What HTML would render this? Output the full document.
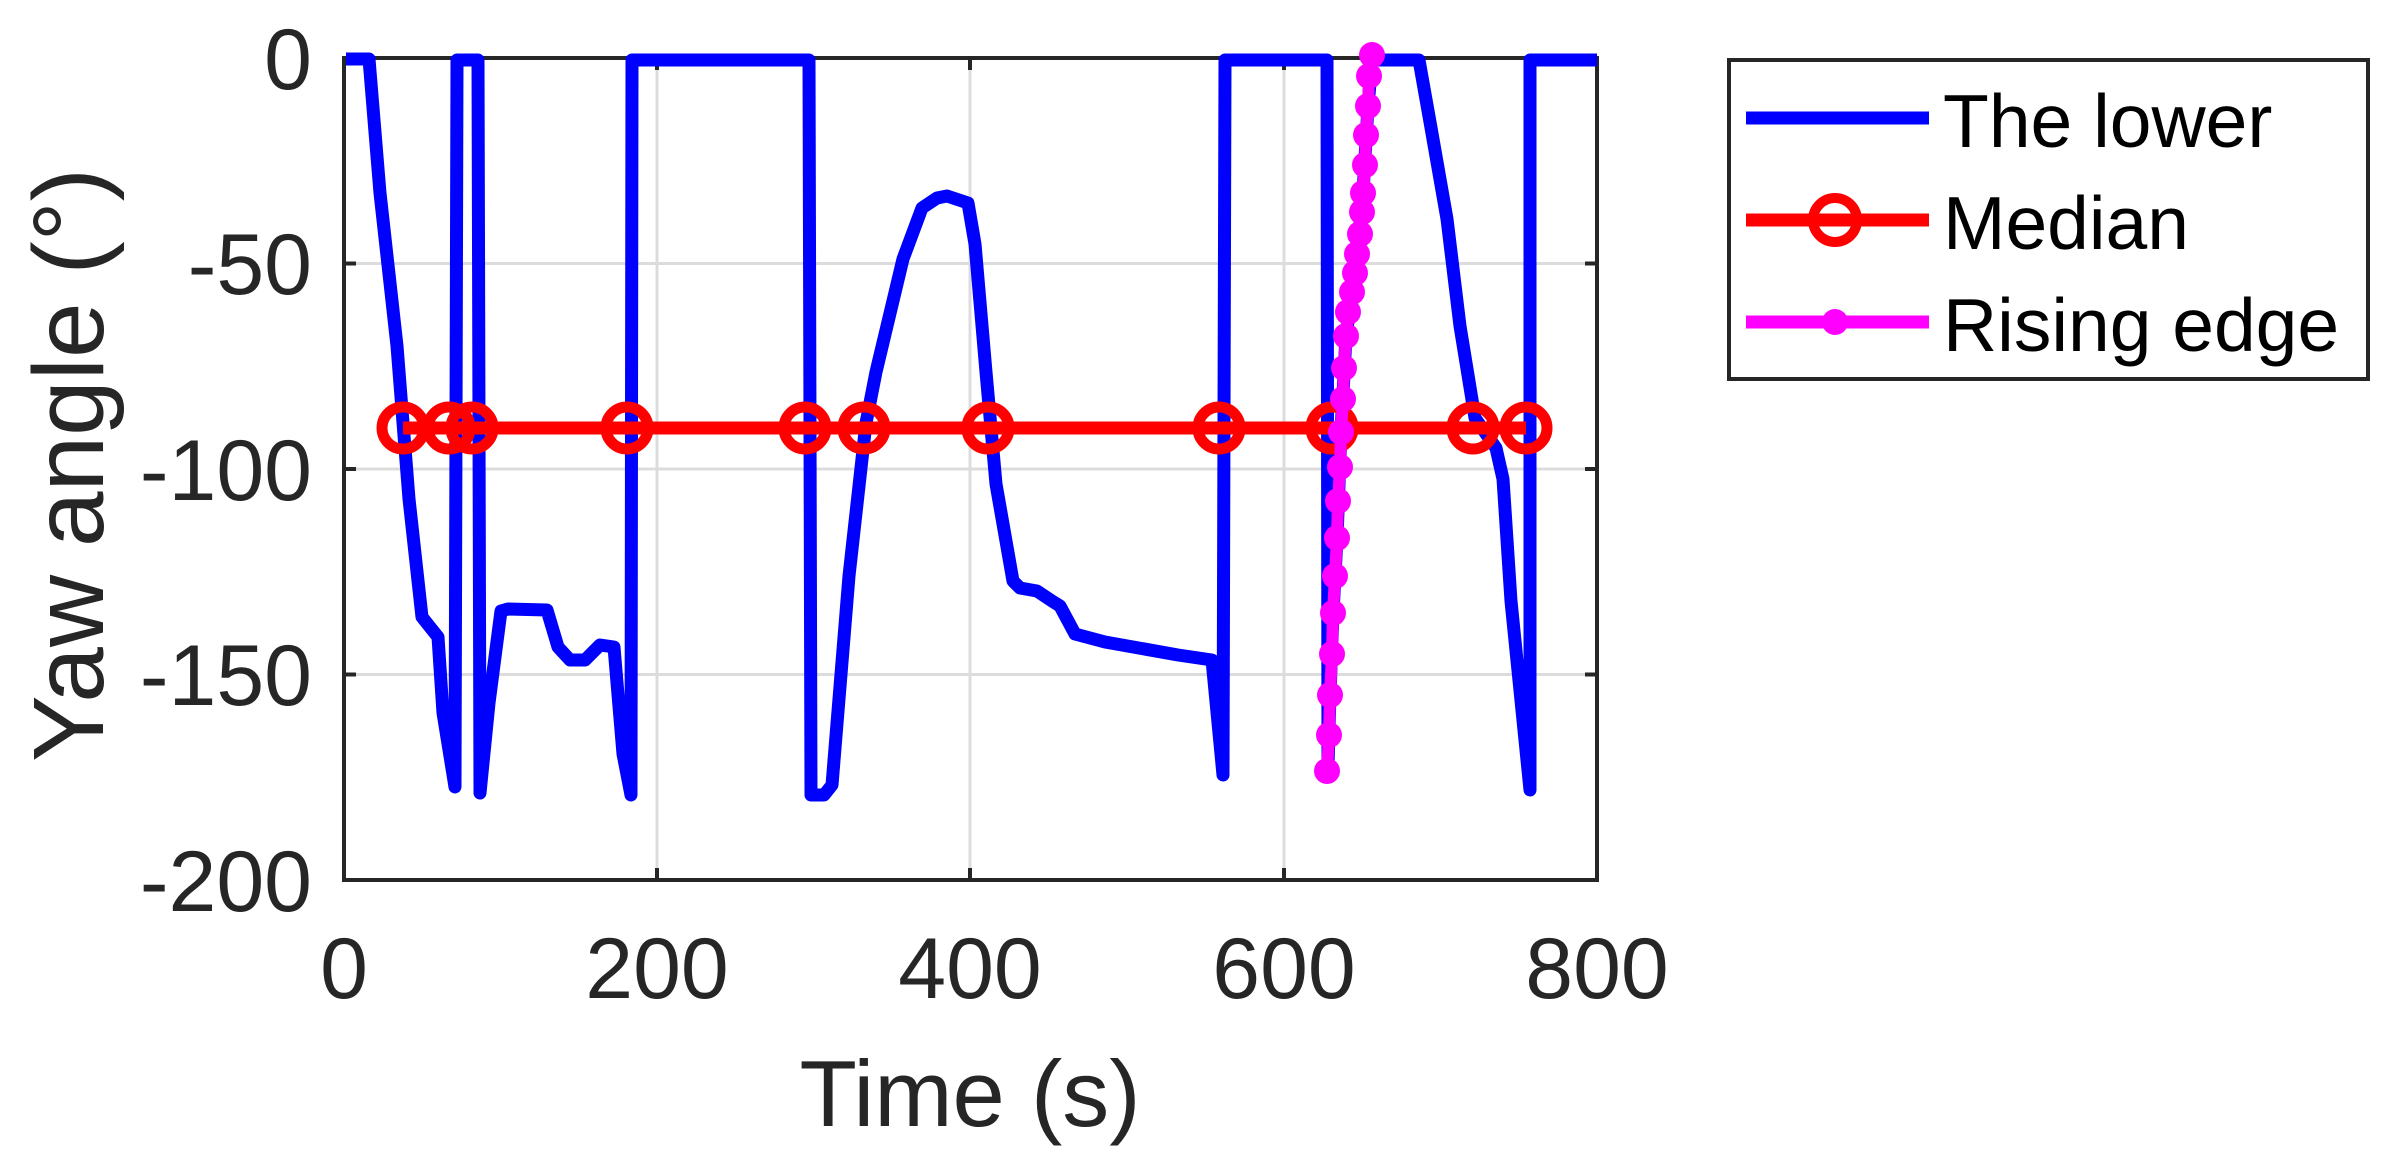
<!DOCTYPE html>
<html><head><meta charset="utf-8"><style>html,body{margin:0;padding:0;background:#fff;}svg{display:block;}</style></head>
<body>
<svg width="2390" height="1157" viewBox="0 0 2390 1157" xmlns="http://www.w3.org/2000/svg" font-family="Liberation Sans, Arial, sans-serif">
<rect width="2390" height="1157" fill="#fff"/>
<g stroke="#dcdcdc" stroke-width="3">
<line x1="657" y1="58" x2="657" y2="880"/><line x1="970" y1="58" x2="970" y2="880"/><line x1="1284" y1="58" x2="1284" y2="880"/>
<line x1="344" y1="263.5" x2="1597" y2="263.5"/><line x1="344" y1="469" x2="1597" y2="469"/><line x1="344" y1="674.5" x2="1597" y2="674.5"/>
</g>
<g stroke="#262626" stroke-width="4">
<line x1="657" y1="880" x2="657" y2="868"/><line x1="970" y1="880" x2="970" y2="868"/><line x1="1284" y1="880" x2="1284" y2="868"/>
<line x1="657" y1="58" x2="657" y2="70"/><line x1="970" y1="58" x2="970" y2="70"/><line x1="1284" y1="58" x2="1284" y2="70"/>
<line x1="344" y1="263.5" x2="356" y2="263.5"/><line x1="344" y1="469" x2="356" y2="469"/><line x1="344" y1="674.5" x2="356" y2="674.5"/>
<line x1="1597" y1="263.5" x2="1585" y2="263.5"/><line x1="1597" y1="469" x2="1585" y2="469"/><line x1="1597" y1="674.5" x2="1585" y2="674.5"/>
</g>
<rect x="344" y="58" width="1253" height="822" fill="none" stroke="#262626" stroke-width="4"/>
<polyline fill="none" stroke="#0000ff" stroke-width="13" stroke-linejoin="round" points="346,59 369,59 380,193 397,346 409,499 422,617 438,637 443,713 455,787 457,60 478,60 480,793 489,703 501,611 508,609 547,610 558,647 570,660 585,660 600,645 614,647 623,754 631,795 632,60 809,60 811,795 824,795 832,785 849,576 866,423 876,372 903,259 922,208 937,198 947,196 968,203 975,244 986,372 996,484 1013,581 1020,588 1037,591 1052,601 1060,606 1075,634 1105,642 1178,655 1212,660 1223,775 1225,60 1327,60 1328,765 1330,695 1333,613 1337,538 1341,432 1346,336 1355,273 1363,193 1368,106 1372,60 1419,60 1430,122 1447,219 1460,326 1475,418 1496,448 1503,479 1511,601 1530,790 1530,60 1597,60"/>
<line x1="403" y1="428" x2="1526" y2="428" stroke="#ff0000" stroke-width="13"/>
<g fill="none" stroke="#ff0000" stroke-width="11">
<circle cx="403" cy="428" r="21"/><circle cx="449" cy="428" r="21"/><circle cx="472" cy="428" r="21"/><circle cx="627" cy="428" r="21"/><circle cx="805" cy="428" r="21"/><circle cx="864" cy="428" r="21"/><circle cx="988" cy="428" r="21"/><circle cx="1219" cy="428" r="21"/><circle cx="1332" cy="428" r="21"/><circle cx="1473" cy="428" r="21"/><circle cx="1526" cy="428" r="21"/>
</g>
<polyline fill="none" stroke="#ff00ff" stroke-width="12" stroke-linejoin="round" points="1327,771 1329,735 1330,695 1332,654 1333,613 1335,576 1337,538 1338,501 1340,467 1341,432 1343,399 1344,368 1346,336 1348,312 1352,292 1355,273 1357,254 1360,234 1362,212 1363,193 1365,165 1366,135 1368,106 1369,76 1372,55"/>
<g fill="#ff00ff">
<circle cx="1327" cy="771" r="13"/><circle cx="1329" cy="735" r="13"/><circle cx="1330" cy="695" r="13"/><circle cx="1332" cy="654" r="13"/><circle cx="1333" cy="613" r="13"/><circle cx="1335" cy="576" r="13"/><circle cx="1337" cy="538" r="13"/><circle cx="1338" cy="501" r="13"/><circle cx="1340" cy="467" r="13"/><circle cx="1341" cy="432" r="13"/><circle cx="1343" cy="399" r="13"/><circle cx="1344" cy="368" r="13"/><circle cx="1346" cy="336" r="13"/><circle cx="1348" cy="312" r="13"/><circle cx="1352" cy="292" r="13"/><circle cx="1355" cy="273" r="13"/><circle cx="1357" cy="254" r="13"/><circle cx="1360" cy="234" r="13"/><circle cx="1362" cy="212" r="13"/><circle cx="1363" cy="193" r="13"/><circle cx="1365" cy="165" r="13"/><circle cx="1366" cy="135" r="13"/><circle cx="1368" cy="106" r="13"/><circle cx="1369" cy="76" r="13"/><circle cx="1372" cy="55" r="13"/>
</g>
<g fill="#262626" font-size="86">
<g text-anchor="middle">
<text x="344" y="998">0</text><text x="657" y="998">200</text><text x="970" y="998">400</text><text x="1284" y="998">600</text><text x="1597" y="998">800</text>
</g>
<g text-anchor="end">
<text x="312" y="89">0</text><text x="312" y="294">-50</text><text x="312" y="500">-100</text><text x="312" y="705">-150</text><text x="312" y="911">-200</text>
</g>
<text x="970" y="1126" text-anchor="middle" font-size="94">Time (s)</text>
<text transform="translate(103,465) rotate(-90)" text-anchor="middle" font-size="100">Yaw angle (°)</text>
</g>
<rect x="1729" y="60" width="639" height="319" fill="#fff" stroke="#262626" stroke-width="4"/>
<line x1="1746" y1="118" x2="1929" y2="118" stroke="#0000ff" stroke-width="13"/>
<line x1="1746" y1="220" x2="1929" y2="220" stroke="#ff0000" stroke-width="13"/>
<circle cx="1835" cy="220" r="22" fill="none" stroke="#ff0000" stroke-width="10"/>
<line x1="1746" y1="322" x2="1929" y2="322" stroke="#ff00ff" stroke-width="13"/>
<circle cx="1835" cy="322" r="13" fill="#ff00ff"/>
<g fill="#000" font-size="75">
<text x="1943" y="147">The lower</text>
<text x="1943" y="249">Median</text>
<text x="1943" y="351">Rising edge</text>
</g>
</svg>
</body></html>
